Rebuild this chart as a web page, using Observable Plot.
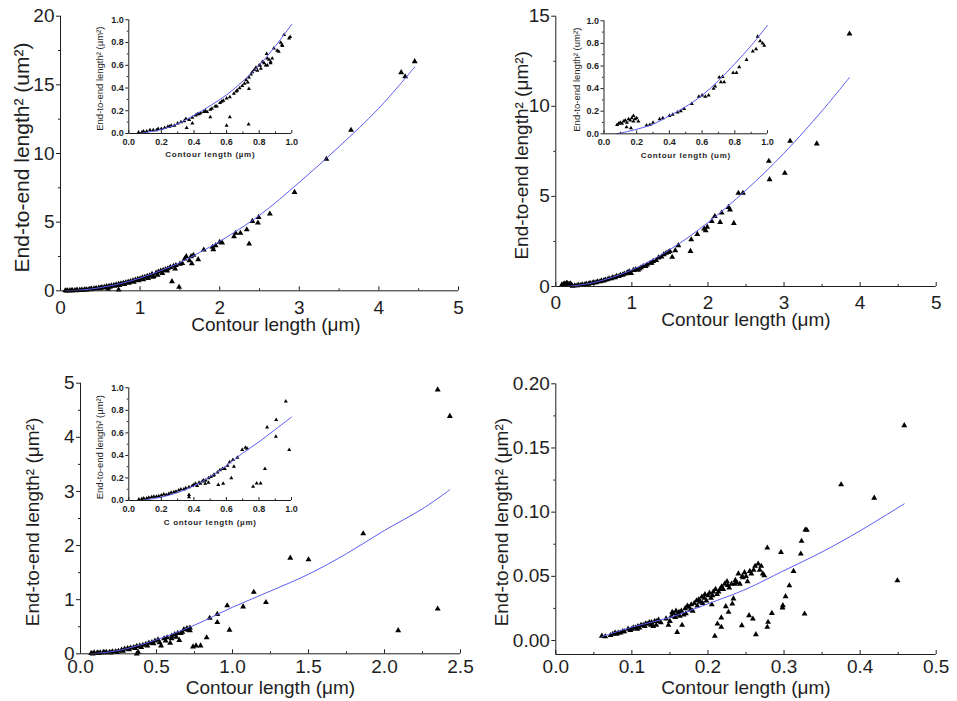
<!DOCTYPE html>
<html><head><meta charset="utf-8">
<script src="https://cdn.jsdelivr.net/npm/d3@7"></script>
<script src="https://cdn.jsdelivr.net/npm/@observablehq/plot@0.6"></script>
<style>
html,body{margin:0;padding:0;background:#fff;}
#fig{position:relative;width:957px;height:701px;overflow:hidden;background:#fff;}
#fig svg{position:absolute;overflow:visible;}
</style></head><body><div id="fig"></div>
<script>
// ---------- data ----------
// Panel 1 (top left): contour length (µm), end-to-end length² (µm²)
const p1Points = [[0.06,0.01],[0.09,0.01],[0.12,0.02],[0.15,0.02],[0.18,0.03],[0.21,0.04],[0.24,0.05],[0.27,0.06],[0.3,0.08],[0.33,0.09],[0.36,0.11],[0.39,0.13],[0.42,0.16],[0.45,0.18],[0.48,0.21],[0.5,0.2],[0.52,0.25],[0.55,0.27],[0.58,0.31],[0.6,0.12],[0.61,0.33],[0.64,0.37],[0.67,0.4],[0.7,0.44],[0.73,0.08],[0.73,0.48],[0.76,0.52],[0.79,0.56],[0.82,0.6],[0.85,0.64],[0.88,0.69],[0.91,0.74],[0.94,0.79],[0.97,0.84],[1.0,0.88],[1.03,0.95],[1.06,1.0],[1.09,1.06],[1.12,1.1],[1.15,1.22],[1.17,1.05],[1.2,1.3],[1.23,1.38],[1.26,1.45],[1.29,1.5],[1.32,1.55],[1.35,1.62],[1.38,1.72],[1.4,0.68],[1.42,1.8],[1.45,1.85],[1.49,0.27],[1.5,1.95],[1.53,2.0],[1.56,2.33],[1.58,2.5],[1.62,2.2],[1.64,2.5],[1.65,1.98],[1.67,2.6],[1.73,2.28],[1.8,2.98],[1.91,3.18],[1.92,3.0],[1.95,3.3],[2.0,3.55],[2.03,3.5],[2.18,3.95],[2.2,4.2],[2.26,4.2],[2.34,4.46],[2.37,3.42],[2.41,5.07],[2.48,4.95],[2.49,5.36],[2.63,5.6],[2.94,7.18],[3.34,9.59],[3.65,11.7],[4.28,15.9],[4.33,15.6],[4.45,16.7],
  [0.08,0.0],[0.14,0.01],[0.2,0.02],[0.26,0.04],[0.32,0.07],[0.38,0.1],[0.44,0.14],[0.5,0.17],[0.56,0.22],[0.62,0.28],[0.68,0.34],[0.74,0.4],[0.8,0.48],[0.86,0.56],[0.92,0.64],[0.98,0.75],[1.04,0.82],[1.1,0.92],[1.16,1.0],[1.22,1.15],[1.28,1.28],[1.34,1.45],[1.44,1.6]];
const p1Fit = [[0.08,0.0],[0.3,0.08],[0.5,0.23],[0.75,0.52],[1.0,0.93],[1.25,1.45],[1.5,2.05],[1.75,2.8],[2.0,3.6],[2.5,5.5],[3.0,7.9],[3.5,10.5],[4.0,13.3],[4.45,16.3]];
const p1XTicks = [0,1,2,3,4,5], p1XMinor = [0.5,1.5,2.5,3.5,4.5];
const p1YTicks = [0,5,10,15,20], p1YMinor = [2.5,7.5,12.5,17.5];

// Inset of panel 1
const i1Points = [[0.06,0.01],[0.08,0.01],[0.09,0.02],[0.11,0.02],[0.13,0.03],[0.15,0.03],[0.18,0.04],[0.2,0.04],[0.22,0.05],[0.24,0.06],[0.26,0.07],[0.28,0.07],[0.3,0.09],[0.32,0.1],[0.35,0.13],[0.355,0.05],[0.37,0.12],[0.39,0.09],[0.39,0.14],[0.41,0.16],[0.43,0.17],[0.44,0.18],[0.46,0.19],[0.48,0.19],[0.5,0.145],[0.5,0.21],[0.51,0.22],[0.53,0.24],[0.54,0.24],[0.56,0.27],[0.58,0.29],[0.6,0.07],[0.6,0.31],[0.62,0.145],[0.62,0.32],[0.645,0.35],[0.665,0.38],[0.68,0.4],[0.696,0.42],[0.71,0.44],[0.73,0.45],[0.735,0.08],[0.737,0.393],[0.737,0.495],[0.75,0.52],[0.758,0.54],[0.77,0.56],[0.789,0.554],[0.8,0.6],[0.805,0.6],[0.82,0.63],[0.83,0.62],[0.846,0.7],[0.85,0.6],[0.86,0.65],[0.87,0.63],[0.89,0.75],[0.91,0.73],[0.932,0.8],[0.942,0.77],[0.953,0.868],[0.983,0.838],[0.99,0.85],
  [0.78,0.58],[0.81,0.57],[0.84,0.6],[0.85,0.66],[0.87,0.62],[0.88,0.66],[0.92,0.72],[0.94,0.78],[0.72,0.47],[0.66,0.37],[0.57,0.28],[0.47,0.2],[0.42,0.17],[0.34,0.11],[0.25,0.06],[0.17,0.03]];
const i1Fit = [[0.06,0.0],[0.2,0.035],[0.3,0.085],[0.4,0.16],[0.5,0.245],[0.6,0.34],[0.7,0.46],[0.8,0.6],[0.9,0.77],[1.0,0.96]];

// Panel 2 (top right)
const p2Points = [[0.1,0.12],[0.12,0.15],[0.14,0.18],[0.16,0.15],[0.18,0.12],[0.2,0.1],[0.25,0.05],[0.3,0.08],[0.35,0.1],[0.4,0.14],[0.45,0.18],[0.5,0.22],[0.55,0.27],[0.6,0.32],[0.65,0.37],[0.7,0.44],[0.75,0.5],[0.8,0.57],[0.85,0.63],[0.9,0.7],[0.95,0.8],[0.99,0.74],[1.02,0.9],[1.05,0.95],[1.08,0.92],[1.12,1.05],[1.15,1.12],[1.2,1.2],[1.24,1.3],[1.28,1.4],[1.35,1.6],[1.42,1.78],[1.45,1.85],[1.48,1.9],[1.5,1.95],[1.53,1.63],[1.57,2.0],[1.61,2.28],[1.77,1.96],[1.78,2.6],[1.86,2.9],[1.95,3.2],[1.97,3.1],[1.99,3.3],[2.05,3.62],[2.09,3.89],[2.16,3.57],[2.18,4.09],[2.27,4.4],[2.29,4.26],[2.34,3.51],[2.40,5.18],[2.46,5.18],[2.80,6.96],[2.81,5.94],[3.01,6.29],[3.08,8.07],[3.43,7.92],[3.86,14.02],
  [0.08,0.1],[0.11,0.14],[0.15,0.17],[0.19,0.16],[0.22,0.03],[0.28,0.05],[0.33,0.07],[0.38,0.1],[0.43,0.14],[0.48,0.18],[0.53,0.22],[0.58,0.27],[0.63,0.32],[0.68,0.38],[0.73,0.44],[0.78,0.5],[0.83,0.56],[0.88,0.64],[0.93,0.72],[0.97,0.82],[1.1,0.98],[1.18,1.12],[1.26,1.3],[1.32,1.45],[1.39,1.65]];
const p2Fit = [[0.15,0.0],[0.5,0.22],[1.0,0.92],[1.5,2.05],[2.0,3.55],[2.5,5.35],[3.0,7.4],[3.5,9.75],[3.86,11.6]];
const p2XTicks = [0,1,2,3,4,5], p2XMinor = [0.5,1.5,2.5,3.5,4.5];
const p2YTicks = [0,5,10,15], p2YMinor = [2.5,7.5,12.5];

// Inset of panel 2
const i2Points = [[0.08,0.08],[0.09,0.09],[0.1,0.1],[0.11,0.09],[0.12,0.11],[0.13,0.12],[0.138,0.06],[0.14,0.1],[0.15,0.13],[0.16,0.12],[0.165,0.05],[0.17,0.14],[0.18,0.16],[0.18,0.11],[0.19,0.13],[0.2,0.14],[0.21,0.11],[0.26,0.075],[0.28,0.08],[0.3,0.1],[0.34,0.13],[0.36,0.14],[0.40,0.16],[0.42,0.17],[0.45,0.19],[0.47,0.2],[0.49,0.22],[0.537,0.265],[0.58,0.33],[0.6,0.34],[0.62,0.33],[0.64,0.34],[0.67,0.4],[0.68,0.42],[0.705,0.5],[0.715,0.457],[0.725,0.505],[0.735,0.457],[0.79,0.54],[0.81,0.54],[0.827,0.59],[0.872,0.655],[0.91,0.73],[0.93,0.75],[0.94,0.86],[0.955,0.82],[0.97,0.8],[0.98,0.78]];
const i2Fit = [[0.08,0.0],[0.2,0.04],[0.3,0.085],[0.4,0.16],[0.5,0.24],[0.6,0.34],[0.7,0.47],[0.8,0.62],[0.9,0.78],[1.0,0.96]];

// Panel 3 (bottom left)
const p3Points = [[0.07,0.01],[0.09,0.02],[0.11,0.02],[0.13,0.02],[0.15,0.03],[0.17,0.03],[0.19,0.03],[0.21,0.04],[0.23,0.04],[0.25,0.05],[0.27,0.07],[0.29,0.09],[0.31,0.1],[0.33,0.11],[0.35,0.12],[0.37,0.0],[0.38,0.03],[0.37,0.14],[0.39,0.15],[0.41,0.16],[0.43,0.18],[0.45,0.2],[0.47,0.21],[0.49,0.24],[0.51,0.26],[0.53,0.15],[0.55,0.28],[0.57,0.3],[0.59,0.2],[0.6,0.33],[0.62,0.36],[0.64,0.38],[0.65,0.25],[0.66,0.38],[0.68,0.45],[0.7,0.47],[0.72,0.48],[0.72,0.43],[0.74,0.13],[0.76,0.15],[0.79,0.15],[0.83,0.30],[0.85,0.66],[0.90,0.58],[0.90,0.73],[0.965,0.89],[0.98,0.44],[1.07,0.87],[1.14,1.14],[1.22,0.95],[1.38,1.77],[1.5,1.74],[1.86,2.22],[2.09,0.43],[2.35,4.88],[2.35,0.83],[2.43,4.39],
  [0.08,0.0],[0.12,0.01],[0.16,0.02],[0.2,0.02],[0.24,0.03],[0.28,0.05],[0.32,0.08],[0.36,0.1],[0.4,0.12],[0.44,0.15],[0.48,0.19],[0.52,0.21],[0.56,0.24],[0.6,0.28],[0.63,0.31],[0.67,0.4],[0.71,0.44]];
const p3Fit = [[0.07,0.0],[0.25,0.06],[0.5,0.26],[0.75,0.53],[1.0,0.86],[1.25,1.16],[1.5,1.47],[1.75,1.85],[2.0,2.28],[2.25,2.68],[2.43,3.03]];
const p3XTicks = [0,0.5,1,1.5,2,2.5], p3XMinor = [0.25,0.75,1.25,1.75,2.25];
const p3YTicks = [0,1,2,3,4,5], p3YMinor = [0.5,1.5,2.5,3.5,4.5];

// Inset of panel 3
const i3Points = [[0.062,0.01],[0.08,0.015],[0.092,0.02],[0.11,0.02],[0.123,0.025],[0.14,0.03],[0.154,0.035],[0.17,0.035],[0.184,0.04],[0.2,0.045],[0.215,0.055],[0.23,0.05],[0.246,0.06],[0.26,0.07],[0.277,0.075],[0.29,0.08],[0.307,0.09],[0.32,0.1],[0.338,0.1],[0.35,0.11],[0.37,0.03],[0.37,0.05],[0.37,0.12],[0.39,0.13],[0.40,0.14],[0.41,0.15],[0.42,0.13],[0.432,0.16],[0.44,0.15],[0.452,0.17],[0.46,0.18],[0.47,0.15],[0.473,0.18],[0.49,0.16],[0.49,0.2],[0.504,0.21],[0.52,0.22],[0.524,0.23],[0.545,0.25],[0.55,0.14],[0.56,0.27],[0.576,0.28],[0.58,0.15],[0.59,0.28],[0.607,0.31],[0.62,0.34],[0.63,0.2],[0.64,0.36],[0.646,0.3],[0.667,0.38],[0.697,0.45],[0.717,0.47],[0.727,0.46],[0.764,0.124],[0.786,0.153],[0.81,0.153],[0.837,0.28],[0.85,0.65],[0.904,0.568],[0.906,0.716],[0.965,0.88],[0.986,0.45]];
const i3Fit = [[0.08,0.0],[0.2,0.03],[0.3,0.07],[0.4,0.13],[0.5,0.21],[0.6,0.31],[0.7,0.42],[0.8,0.52],[0.9,0.63],[1.0,0.74]];

// Panel 4 (bottom right)
const p4Points = [[0.0605,0.0035],[0.072,0.004],[0.075,0.005],[0.078,0.006],[0.082,0.006],[0.085,0.006],[0.09,0.007],[0.095,0.009],[0.1,0.009],[0.102,0.01],[0.105,0.01],[0.108,0.011],[0.11,0.01],[0.112,0.012],[0.115,0.012],[0.118,0.013],[0.12,0.013],[0.123,0.014],[0.126,0.014],[0.128,0.011],[0.13,0.015],[0.133,0.015],[0.135,0.016],[0.132,0.012],[0.148,0.012],[0.15,0.015],[0.152,0.019],[0.153,0.022],[0.155,0.021],[0.158,0.023],[0.16,0.02],[0.1595,0.0065],[0.162,0.022],[0.165,0.023],[0.166,0.012],[0.168,0.02],[0.17,0.025],[0.173,0.027],[0.175,0.026],[0.178,0.028],[0.18,0.023],[0.182,0.029],[0.185,0.031],[0.188,0.032],[0.19,0.03],[0.192,0.034],[0.195,0.033],[0.196,0.036],[0.2,0.035],[0.202,0.037],[0.204,0.033],[0.205,0.028],[0.207,0.038],[0.209,0.0034],[0.21,0.04],[0.2125,0.013],[0.214,0.038],[0.2175,0.0104],[0.2175,0.0177],[0.218,0.042],[0.22,0.04],[0.222,0.044],[0.2235,0.0265],[0.225,0.046],[0.227,0.0221],[0.228,0.041],[0.232,0.0286],[0.2335,0.0325],[0.235,0.044],[0.238,0.045],[0.24,0.052],[0.242,0.044],[0.2445,0.0117],[0.245,0.05],[0.248,0.053],[0.25,0.05],[0.252,0.046],[0.254,0.0195],[0.255,0.054],[0.259,0.0169],[0.262,0.058],[0.263,0.0047],[0.266,0.0597],[0.27,0.058],[0.272,0.052],[0.274,0.0506],[0.278,0.0722],[0.278,0.0104],[0.279,0.0143],[0.284,0.0213],[0.296,0.0688],[0.298,0.0255],[0.2985,0.0273],[0.302,0.0343],[0.307,0.0428],[0.3125,0.054],[0.322,0.0675],[0.323,0.0774],[0.327,0.0208],[0.328,0.0862],[0.33,0.086],[0.375,0.1215],[0.4185,0.111],[0.449,0.0467],[0.458,0.1675],
  [0.065,0.003],[0.08,0.005],[0.088,0.007],[0.098,0.008],[0.107,0.009],[0.117,0.011],[0.125,0.012],[0.138,0.014],[0.145,0.017],[0.157,0.018],[0.163,0.019],[0.171,0.021],[0.177,0.024],[0.186,0.027],[0.193,0.029],[0.198,0.031],[0.206,0.035],[0.212,0.036],[0.216,0.04],[0.226,0.043],[0.231,0.044],[0.236,0.047],[0.246,0.049],[0.257,0.052],[0.26,0.055],[0.268,0.055]];
const p4Fit = [[0.0605,0.003],[0.1,0.0104],[0.15,0.018],[0.2,0.0286],[0.25,0.040],[0.3,0.0545],[0.35,0.069],[0.4,0.0855],[0.458,0.1065]];
const p4XTicks = [0,0.1,0.2,0.3,0.4,0.5], p4XMinor = [0.05,0.15,0.25,0.35,0.45];
const p4YTicks = [0,0.05,0.1,0.15,0.2], p4YMinor = [0.025,0.075,0.125,0.175];

// Inset ticks (all insets)
const insetTicks = [0,0.2,0.4,0.6,0.8,1.0], insetMinor = [0.1,0.3,0.5,0.7,0.9];

// Titles
const xTitleMain = "Contour length (\u03bcm)";
const yTitleP1 = "End-to-end length\u00b2 (um\u00b2)";
const yTitleMain = "End-to-end length\u00b2 (\u03bcm\u00b2)";
const i1Titles = ["Contour length (\u00b5m)", "End-to-end length\u00b2 (\u00b5m\u00b2)"];
const i2Titles = ["Contour length (um)", "End-to-end length\u00b2 (um\u00b2)"];
const i3Titles = ["C ontour length (\u00b5m)", "End-to-end length\u00b2 (\u00b5m\u00b2)"];

// ---------- drawing ----------
const FONT = "'Liberation Sans', Arial, sans-serif";
const INK = "#1e1e1e";
const BLUE = "#5c5cf5";
const fig = document.getElementById("fig");

function makePanel(c) {
  const fh = c.frame.b - c.frame.t;
  const ml = c.frame.l - c.box.l, mt = c.frame.t - c.box.t;
  const mr = c.box.l + c.box.w - c.frame.r, mb = c.box.t + c.box.h - c.frame.b;
  const svg = Plot.plot({
    width: c.box.w, height: c.box.h,
    marginLeft: ml, marginRight: mr, marginTop: mt, marginBottom: mb,
    style: {fontFamily: FONT, background: "transparent", overflow: "visible", color: INK},
    x: {type: "linear", domain: c.xDomain},
    y: {type: "linear", domain: c.yDomain},
    marks: [
      Plot.dot(c.pts, {x: d => d[0], y: d => d[1], symbol: "triangle", r: c.r, fill: "#000", stroke: "none"}),
      Plot.line(c.fit, {x: d => d[0], y: d => d[1], stroke: BLUE, strokeWidth: 1, curve: "catmull-rom"}),
      Plot.ruleX([c.xDomain[0]], {stroke: INK, strokeWidth: 1}),
      Plot.ruleY([c.yDomain[0]], {stroke: INK, strokeWidth: 1}),
      Plot.tickX(c.xTicks, {x: d => d, insetTop: fh - c.major, stroke: INK}),
      Plot.tickX(c.xMinor, {x: d => d, insetTop: fh - c.minor, stroke: INK}),
      Plot.axisX({ticks: c.xTicks, tickSize: 0, tickPadding: c.xPad, tickFormat: c.xFmt, fontSize: c.tickFont, fontWeight: c.weight, label: null}),
      Plot.axisY({ticks: c.yTicks, tickSize: c.major, tickPadding: c.yPad, tickFormat: c.yFmt, fontSize: c.tickFont, fontWeight: c.weight, label: null, stroke: INK}),
      Plot.axisY({ticks: c.yMinor, tickSize: c.minor, tickFormat: () => "", label: null, stroke: INK}),
      Plot.text([c.xTitle], {frameAnchor: "bottom", textAnchor: "middle", text: d => d, dx: c.xtDx, dy: c.xtDy, fontSize: c.xtFont, fontWeight: c.weight, lineAnchor: "middle", fill: INK}),
      Plot.text([c.yTitle], {frameAnchor: "left", textAnchor: "middle", text: d => d, rotate: -90, dx: c.ytDx, dy: c.ytDy, fontSize: c.ytFont, lineAnchor: "middle", fill: INK})
    ]
  });
  svg.style.left = c.box.l + "px";
  svg.style.top = c.box.t + "px";
  if (c.letterSpacing) {
    d3.select(svg).selectAll("text").filter(function() { return this.textContent === c.xTitle; })
      .style("letter-spacing", c.letterSpacing);
  }
  fig.appendChild(svg);
}

const f0 = d3.format("d"), f1 = d3.format(".1f"), f2 = d3.format(".2f");

// Panel 1
makePanel({pts: p1Points, fit: p1Fit, xDomain: [0,5], yDomain: [0,20],
  xTicks: p1XTicks, xMinor: p1XMinor, yTicks: p1YTicks, yMinor: p1YMinor, xFmt: f0, yFmt: f0,
  box: {l:0,t:0,w:478,h:345}, frame: {l:60,t:15.7,r:458,b:290.3},
  r: 2.2, major: 4, minor: 2, xPad: 10, yPad: 2, tickFont: 19, weight: "normal",
  xTitle: xTitleMain, xtFont: 19, xtDx: 16.5, xtDy: 34.5,
  yTitle: yTitleP1, ytFont: 21, ytDx: -38, ytDy: 4});
makePanel({pts: i1Points, fit: i1Fit, xDomain: [0,1], yDomain: [0,1],
  xTicks: insetTicks, xMinor: insetMinor, yTicks: insetTicks, yMinor: insetMinor, xFmt: f1, yFmt: f1,
  box: {l:60,t:0,w:250,h:172}, frame: {l:128.3,t:19.3,r:291.3,b:133},
  r: 1.5, major: 3, minor: 1.5, xPad: 5, yPad: 2, tickFont: 9, weight: "bold",
  xTitle: i1Titles[0], xtFont: 8, xtDx: 0, xtDy: 21.4, letterSpacing: "0.7px",
  yTitle: i1Titles[1], ytFont: 9.5, ytDx: -29, ytDy: 2});

// Panel 2
makePanel({pts: p2Points, fit: p2Fit, xDomain: [0,5], yDomain: [0,15],
  xTicks: p2XTicks, xMinor: p2XMinor, yTicks: p2YTicks, yMinor: p2YMinor, xFmt: f0, yFmt: f0,
  box: {l:478,t:0,w:479,h:345}, frame: {l:555.3,t:15.7,r:935.7,b:286},
  r: 2.2, major: 4, minor: 2, xPad: 9, yPad: 2, tickFont: 19, weight: "normal",
  xTitle: xTitleMain, xtFont: 19, xtDx: 0, xtDy: 33.5,
  yTitle: yTitleMain, ytFont: 19, ytDx: -34.3, ytDy: 4});
makePanel({pts: i2Points, fit: i2Fit, xDomain: [0,1], yDomain: [0,1],
  xTicks: insetTicks, xMinor: insetMinor, yTicks: insetTicks, yMinor: insetMinor, xFmt: f1, yFmt: f1,
  box: {l:555,t:0,w:240,h:172}, frame: {l:603.5,t:20.3,r:767,b:133.3},
  r: 1.5, major: 3, minor: 1.5, xPad: 5, yPad: 2, tickFont: 9, weight: "bold",
  xTitle: i2Titles[0], xtFont: 8, xtDx: 0, xtDy: 22, letterSpacing: "0.7px",
  yTitle: i2Titles[1], ytFont: 9.5, ytDx: -27.2, ytDy: 2.4});

// Panel 3
makePanel({pts: p3Points, fit: p3Fit, xDomain: [0,2.5], yDomain: [0,5],
  xTicks: p3XTicks, xMinor: p3XMinor, yTicks: p3YTicks, yMinor: p3YMinor, xFmt: f1, yFmt: f0,
  box: {l:0,t:350,w:478,h:351}, frame: {l:80,t:382.7,r:460,b:653.3},
  r: 2.2, major: 4, minor: 2, xPad: 6, yPad: 2, tickFont: 19, weight: "normal",
  xTitle: xTitleMain, xtFont: 19, xtDx: 0, xtDy: 34,
  yTitle: yTitleMain, ytFont: 19, ytDx: -48, ytDy: 3.5});
makePanel({pts: i3Points, fit: i3Fit, xDomain: [0,1], yDomain: [0,1],
  xTicks: insetTicks, xMinor: insetMinor, yTicks: insetTicks, yMinor: insetMinor, xFmt: f1, yFmt: f1,
  box: {l:60,t:360,w:250,h:180}, frame: {l:128.3,t:387.3,r:291,b:500},
  r: 1.5, major: 3, minor: 1.5, xPad: 5, yPad: 2, tickFont: 9, weight: "bold",
  xTitle: i3Titles[0], xtFont: 8, xtDx: 0, xtDy: 22.4, letterSpacing: "0.7px",
  yTitle: i3Titles[1], ytFont: 9.5, ytDx: -29, ytDy: 3});

// Panel 4
makePanel({pts: p4Points, fit: p4Fit, xDomain: [0,0.5], yDomain: [-0.0109,0.2],
  xTicks: p4XTicks, xMinor: p4XMinor, yTicks: p4YTicks, yMinor: p4YMinor, xFmt: f1, yFmt: f2,
  box: {l:478,t:350,w:479,h:351}, frame: {l:555.3,t:383.3,r:935.7,b:654},
  r: 2.2, major: 4, minor: 2, xPad: 5, yPad: 2, tickFont: 19, weight: "normal",
  xTitle: xTitleMain, xtFont: 19, xtDx: 0, xtDy: 33.5,
  yTitle: yTitleMain, ytFont: 19, ytDx: -53.8, ytDy: 3});
</script></body></html>
